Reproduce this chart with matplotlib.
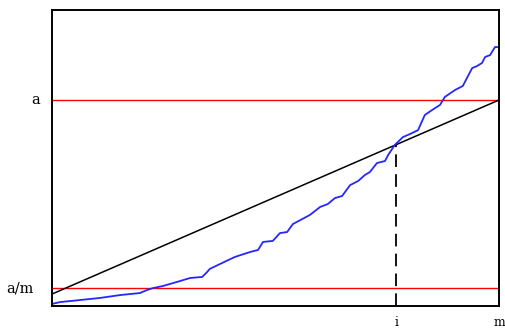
import matplotlib.pyplot as plt
import matplotlib.transforms as mtransforms

# sorted values (x = rank position out of m, y in units of a)
rank = [0, 1.8, 6.3, 10.7, 15.2, 19.7, 21.3, 22.6, 24.8, 28.0, 30.9, 33.6, 34.7,
        35.3, 37.6, 40.9, 44.3, 46.1, 47.2, 49.4, 51.0, 52.6, 53.9, 57.7, 60.0,
        61.7, 63.3, 64.9, 66.7, 68.5, 70.0, 71.1, 72.7, 74.5, 75.2, 76.7, 78.5,
        80.1, 81.9, 83.4, 85.0, 86.8, 87.9, 90.2, 91.9, 94.0, 95.1, 96.2, 96.9,
        98.0, 99.1, 100]
pvals = [0.010, 0.019, 0.029, 0.039, 0.053, 0.063, 0.078, 0.087, 0.097, 0.117,
         0.136, 0.141, 0.165, 0.180, 0.204, 0.238, 0.262, 0.272, 0.311, 0.316,
         0.354, 0.359, 0.398, 0.442, 0.481, 0.495, 0.524, 0.534, 0.587, 0.607,
         0.636, 0.650, 0.694, 0.704, 0.733, 0.782, 0.820, 0.835, 0.854, 0.927,
         0.951, 0.976, 1.015, 1.049, 1.068, 1.155, 1.165, 1.180, 1.209, 1.218,
         1.257, 1.257]

m = 100
i = 77
a = 1.0
a_over_m = 0.087
diag_x = [0, m]
diag_y = [0.058, a]
cross_y = 0.783

plt.rcParams['font.family'] = ['DejaVu Serif']

fig = plt.figure(figsize=(5.06, 3.31), dpi=100)
ax = fig.add_axes([52 / 506, 25 / 331, 447 / 506, 296 / 331])

ax.axhline(a, color='red', lw=1.0)
ax.axhline(a_over_m, color='red', lw=1.0)
ax.plot(diag_x, diag_y, color='black', lw=1.1)
ax.plot(rank, pvals, color='#2626ff', lw=1.3)
ax.plot([i, i], [0, cross_y], color='black', lw=1.3, dashes=(7, 4))

ax.set_xlim(0, m)
ax.set_ylim(0, 1.437)
ax.set_xticks([i, m])
ax.set_xticklabels(['i', 'm'])
ax.set_yticks([])
ax.tick_params(length=0, labelsize=9)
ax.tick_params(axis='x', pad=7)

# y labels placed by hand like the original
trans = mtransforms.blended_transform_factory(ax.transAxes, ax.transData)
ax.text(-0.027, a, 'a', transform=trans, ha='right', va='center', fontsize=10.5)
ax.text(-0.040, a_over_m, 'a/m', transform=trans, ha='right', va='center', fontsize=10.5)

for s in ax.spines.values():
    s.set_linewidth(1.4)

fig.savefig('out.png', dpi=100)
